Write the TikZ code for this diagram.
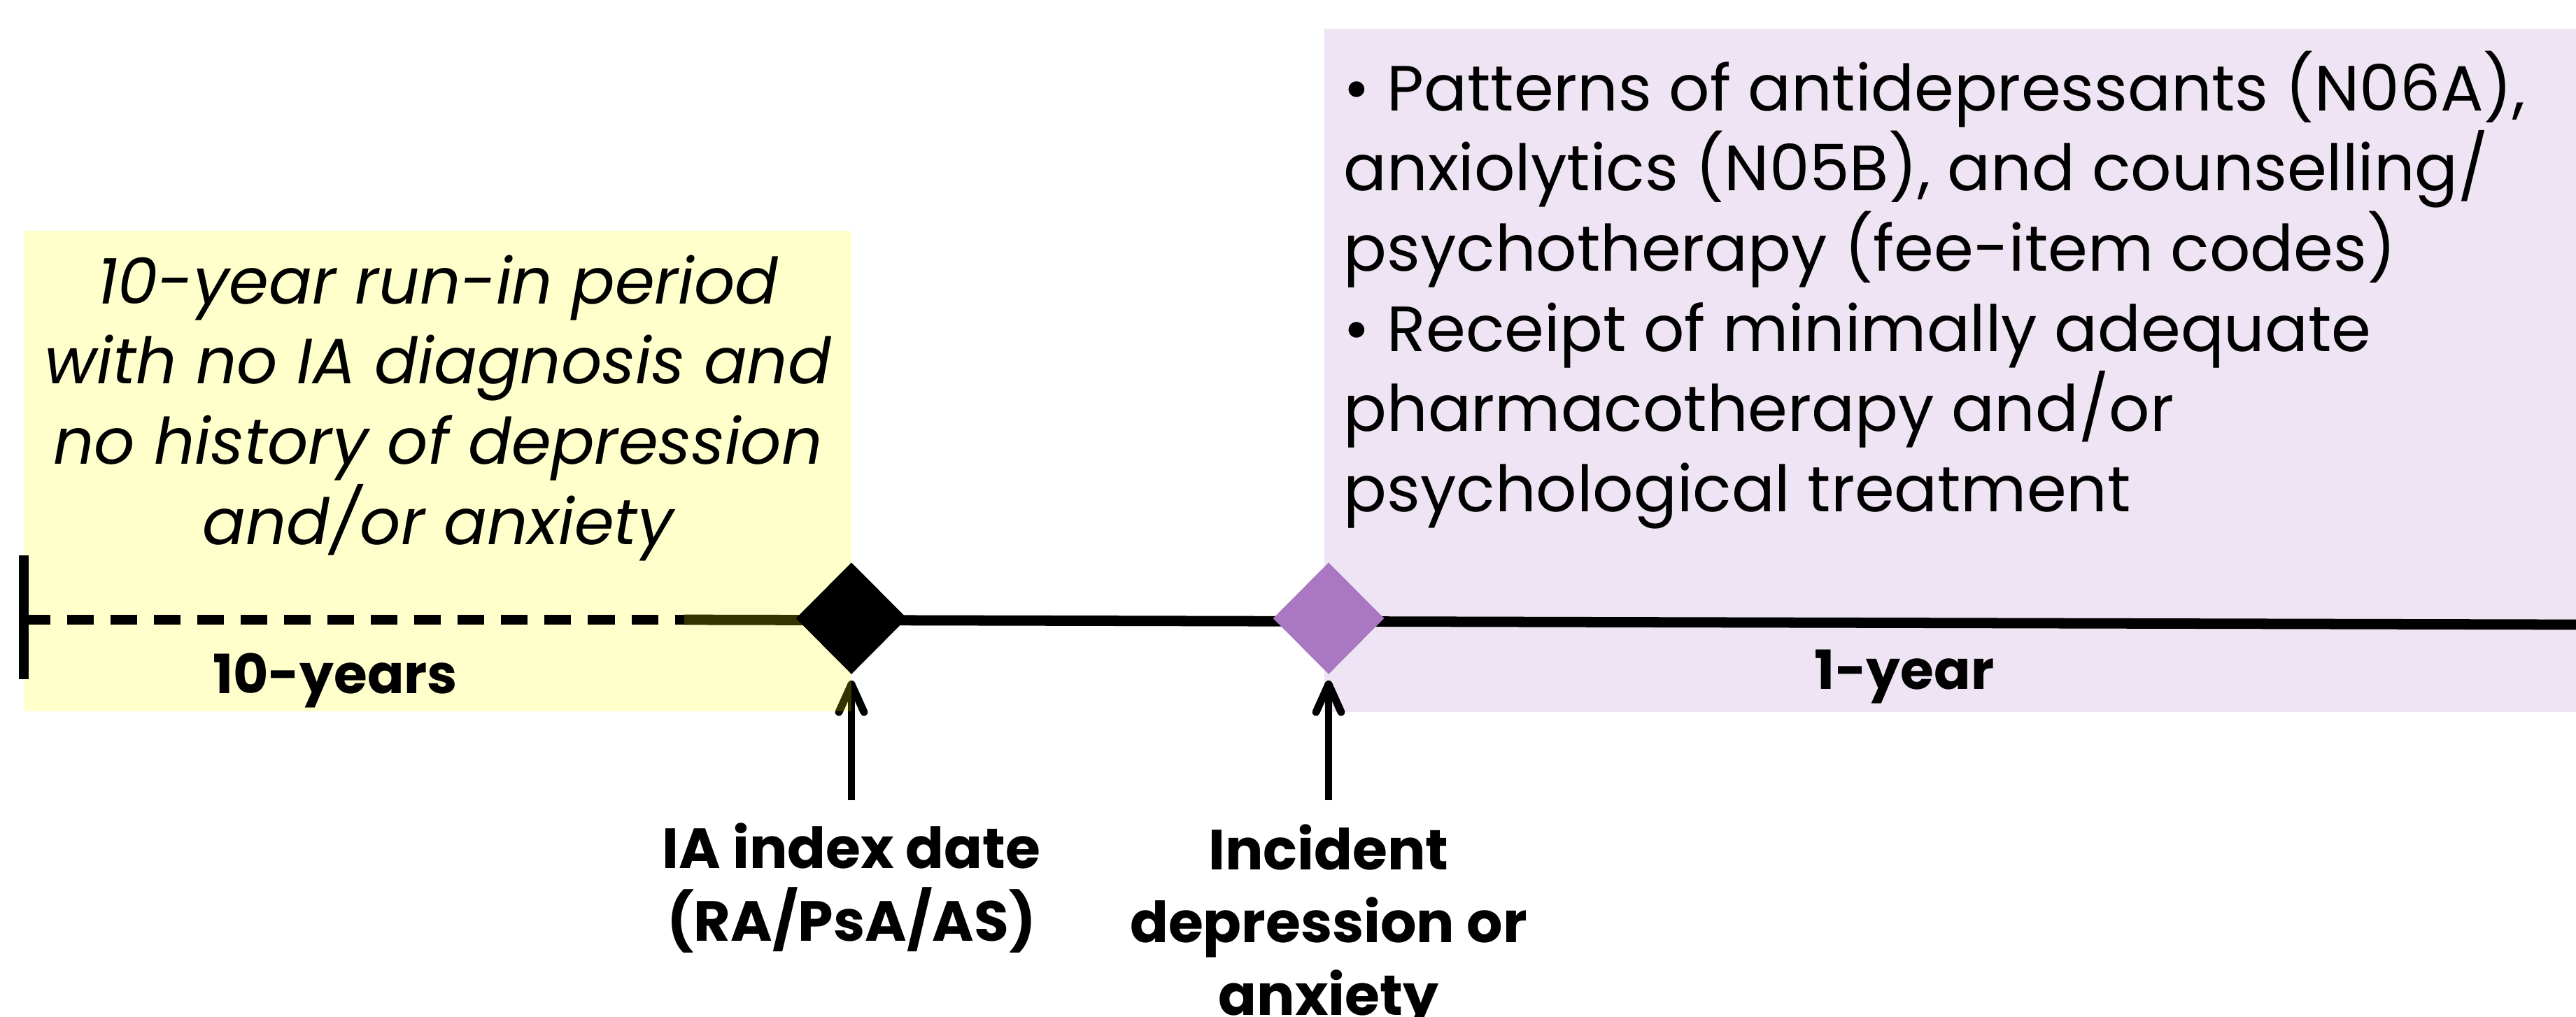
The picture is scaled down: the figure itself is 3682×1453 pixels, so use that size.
\documentclass[tikz,border=0pt]{standalone}
\usepackage{fontspec}
\setmainfont{Poppins}
\usepackage{tikz}
\usetikzlibrary{arrows.meta}
\usetikzlibrary{backgrounds}
\usetikzlibrary{shapes.geometric,positioning}

\definecolor{runinyellow}{RGB}{255,255,0}
\definecolor{eventpurple}{RGB}{170,120,194}

\tikzset{
  period/.style={fill opacity=0.2},
  event/.style={diamond, minimum width=1.59cm, minimum height=1.6cm, inner sep=0pt},
  pointer/.style={-{Straight Barb[length=0.4cm,width=0.36cm,round]}, line width=3.1pt, shorten >=0.08cm},
  axis/.style={line width=4.2pt},
  boxtext/.style={font=\fontsize{26}{32.6}\selectfont, inner sep=0pt},
  lentext/.style={font=\bfseries\fontsize{22}{29.5}\selectfont, inner sep=0pt},
  marktext/.style={font=\bfseries\fontsize{23}{29.5}\selectfont, align=center, inner sep=0pt}
}

\begin{document}
\begin{tikzpicture}[x=0.01cm, y=-0.01cm]
        % Study timeline with run-in and follow-up
        \useasboundingbox (0,0) rectangle (3682,1453);
        \coordinate (runstart) at (34,886);
        \coordinate (solidstart) at (978,886);
        \coordinate (axisend) at (3682,893);
        \coordinate (indexfoot) at (1217,1144);
        \coordinate (incidentfoot) at (1899,1144);
        \node[event, fill=black] (index) at (1217,884) {};
        \node[event, fill=eventpurple] (incident) at (1899,884) {};

        \begin{pgfonlayer}{background}
            \fill[eventpurple, period] (1893,41) rectangle (3682,1018);
            \draw[axis] (solidstart) -- (axisend);
            \draw[pointer] (indexfoot) -- (index.south);
            \fill[runinyellow, period] (35,330) rectangle (1217,1017);
        \end{pgfonlayer}

        \draw[axis, dash pattern=on 0.38cm off 0.24cm] (runstart) -- (solidstart);
        \draw[line width=4pt] (34,794) -- (34,971);
        \draw[pointer] (incidentfoot) -- (incident.south);

        \node[boxtext, align=center, anchor=north] (runin) at (626,364)
            {\itshape 10-year run-in period\\\itshape with no IA diagnosis and\\\itshape no history of depression\\\itshape and/or anxiety};
        \node[boxtext, align=left, anchor=north west] (outcomes) at (1920,72)
            {• Patterns of antidepressants (N06A),\\anxiolytics (N05B), and counselling/\\psychotherapy (fee-item codes)\\• Receipt of minimally adequate\\pharmacotherapy and/or\\psychological treatment};

        \node[lentext, anchor=base] (runinlen) at (479,991) {10-years};
        \node[lentext, anchor=base] (followlen) at (2722,985) {1-year};
        \node[marktext, anchor=north] (indexlabel) at (1217,1176) {IA index date\\(RA/PsA/AS)};
        \node[marktext, anchor=north] (incidentlabel) at (1899,1178) {Incident\\depression or\\anxiety};
    \end{tikzpicture}
\end{document}
